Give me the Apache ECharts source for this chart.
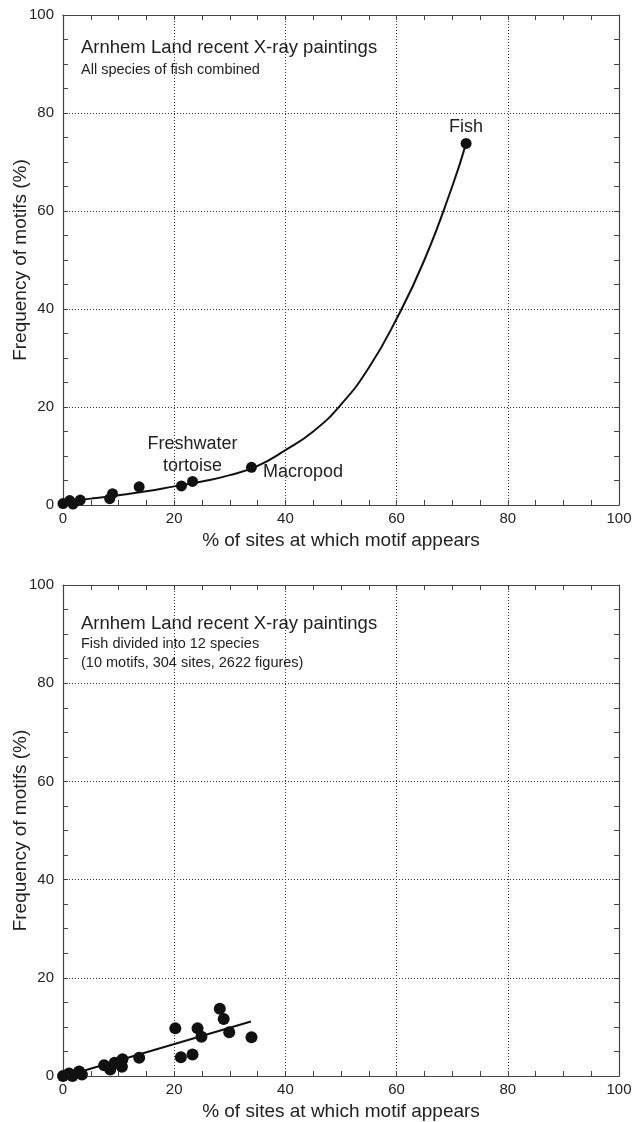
<!DOCTYPE html>
<html><head><meta charset="utf-8">
<script src="https://cdn.jsdelivr.net/npm/echarts@6/dist/echarts.min.js"></script>
<style>html,body{margin:0;padding:0;background:#fff}#c{width:636px;height:1122px}</style>
</head><body><div id="c"></div>
<script>
// ---- Data ----
const xTicks = [0, 20, 40, 60, 80, 100];
const topPointsX = [0, 1.2, 1.8, 3.1, 8.4, 8.9, 13.7, 21.3, 23.3, 33.9, 72.5];
const topPointsY = [0.3, 0.9, 0.2, 1.0, 1.3, 2.3, 3.7, 3.9, 4.8, 7.7, 73.8];
const topPointNames = ['', '', '', '', '', '', '', '', 'Freshwater\ntortoise', 'Macropod', 'Fish'];
const topCurveX = [2.5, 5, 10, 15, 20, 25, 30, 35, 40, 45, 50, 55, 60, 65, 70, 72.5];
const topCurveY = [1.0, 1.3, 2.0, 2.8, 3.8, 4.8, 6.1, 8.0, 11.2, 15, 20.5, 28, 38, 50, 65, 73.8];
const botPointsX = [0, 1.1, 1.7, 2.9, 3.4, 7.4, 8.5, 9.3, 10.6, 10.7, 13.7, 20.2, 21.2, 23.3, 24.2, 24.9, 28.2, 28.9, 29.9, 33.9];
const botPointsY = [0, 0.5, 0, 0.9, 0.3, 2.2, 1.3, 2.7, 1.9, 3.4, 3.7, 9.7, 3.8, 4.4, 9.7, 8.0, 13.7, 11.6, 8.9, 7.9];
const botLineX = [0.5, 33.8];
const botLineY = [0, 11.1];
const titles = ['Arnhem Land recent X-ray paintings', 'Arnhem Land recent X-ray paintings'];
const subtitles = [['All species of fish combined'], ['Fish divided into 12 species', '(10 motifs, 304 sites, 2622 figures)']];
const xName = '% of sites at which motif appears';
const yName = 'Frequency of motifs (%)';

// ---- Chart ----
const FONT = '"Liberation Sans", Arial, sans-serif';
const AX = '#444';
const TXT = '#222';
const grids = [
  {left: 63, top: 15, width: 556, height: 490, outerBoundsMode: 'none', containLabel: false},
  {left: 63, top: 585, width: 556, height: 491, outerBoundsMode: 'none', containLabel: false}
];
const zip = (a, b) => a.map((v, i) => [v, b[i]]);

function baseAxis(gi, pos) {
  return {
    gridIndex: gi, type: 'value', min: 0, max: 100, interval: 20, position: pos,
    axisLine: {show: true, onZero: false, lineStyle: {color: AX, width: 1.2}},
    axisTick: {show: true, inside: true, length: 5, lineStyle: {color: AX}},
    minorTick: {show: true, splitNumber: 4, length: 5, lineStyle: {color: AX}},
    axisLabel: {show: false}, splitLine: {show: false}
  };
}
function mainX(gi) {
  return Object.assign(baseAxis(gi, 'bottom'), {
    axisLabel: {show: true, color: TXT, fontSize: 15, fontFamily: FONT, margin: 6},
    splitLine: {show: true, showMinLine: false, showMaxLine: false, lineStyle: {color: '#333', type: [1, 2], width: 1}},
    name: xName, nameLocation: 'middle', nameGap: 26, nameMoveOverlap: false,
    nameTextStyle: {color: TXT, fontSize: 19, fontFamily: FONT, verticalAlign: 'top'}
  });
}
function mainY(gi) {
  return Object.assign(baseAxis(gi, 'left'), {
    axisLabel: {show: true, color: TXT, fontSize: 15, fontFamily: FONT, margin: 9},
    splitLine: {show: true, showMinLine: false, showMaxLine: false, lineStyle: {color: '#333', type: [1, 2], width: 1}},
    name: yName, nameLocation: 'middle', nameGap: 33, nameRotate: 90, nameMoveOverlap: false,
    nameTextStyle: {color: TXT, fontSize: 19, fontFamily: FONT}
  });
}

const topLabelPos = {
  'Freshwater\ntortoise': {position: 'top', distance: -1, align: 'center'},
  'Macropod': {position: 'right', distance: 6, offset: [0, 5], align: 'left'},
  'Fish': {position: 'top', distance: 0, align: 'center'}
};
const topScatterData = topPointsX.map((x, i) => {
  const n = topPointNames[i];
  const item = {value: [x, topPointsY[i]], name: n};
  if (n) item.label = Object.assign({show: true, formatter: '{b}', color: TXT, fontSize: 18, fontFamily: FONT, lineHeight: 22}, topLabelPos[n]);
  return item;
});

const titleArr = [];
const tTops = [[38, 62], [614, 636, 655]];
titles.forEach((t, k) => {
  titleArr.push({text: t, left: 81, top: tTops[k][0], textStyle: {color: TXT, fontSize: 18.5, fontWeight: 'normal', fontFamily: FONT}, padding: 0});
  subtitles[k].forEach((s, j) => {
    titleArr.push({text: s, left: 81, top: tTops[k][j + 1], textStyle: {color: TXT, fontSize: 14.5, fontWeight: 'normal', fontFamily: FONT}, padding: 0});
  });
});

const chart = echarts.init(document.getElementById('c'), null, {renderer: 'canvas'});
chart.setOption({
  animation: false,
  backgroundColor: '#fff',
  textStyle: {fontFamily: FONT},
  title: titleArr,
  grid: grids,
  xAxis: [mainX(0), baseAxis(0, 'top'), mainX(1), baseAxis(1, 'top')],
  yAxis: [mainY(0), baseAxis(0, 'right'), mainY(1), baseAxis(1, 'right')],
  series: [
    {type: 'line', xAxisIndex: 0, yAxisIndex: 0, data: zip(topCurveX, topCurveY), smooth: 0.5, showSymbol: false, symbol: 'none',
     lineStyle: {color: '#111', width: 2}, z: 2},
    {type: 'scatter', xAxisIndex: 0, yAxisIndex: 0, data: topScatterData, symbolSize: 11,
     itemStyle: {color: '#111', opacity: 1}, z: 3, label: {show: false}},
    {type: 'line', xAxisIndex: 2, yAxisIndex: 2, data: zip(botLineX, botLineY), showSymbol: false, symbol: 'none',
     lineStyle: {color: '#111', width: 2}, z: 2},
    {type: 'scatter', xAxisIndex: 2, yAxisIndex: 2, data: zip(botPointsX, botPointsY), symbolSize: 12,
     itemStyle: {color: '#111', opacity: 1}, z: 3}
  ]
});
</script></body></html>
